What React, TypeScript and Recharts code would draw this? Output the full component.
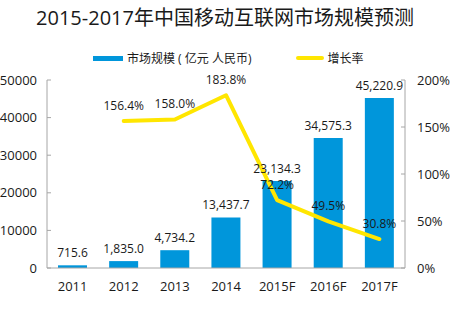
import { ComposedChart, Bar, Line, XAxis, YAxis, LabelList } from "recharts";

const years = ["2011", "2012", "2013", "2014", "2015F", "2016F", "2017F"];
// 市场规模（亿元 人民币）
const marketSize = [715.6, 1835.0, 4734.2, 13437.7, 23134.3, 34575.3, 45220.9];
// 增长率 (%)
const growthRate = [null, 156.4, 158.0, 183.8, 72.2, 49.5, 30.8];
const sizeTicks = [0, 10000, 20000, 30000, 40000, 50000];
const rateTicks = [0, 50, 100, 150, 200];

const FONT = "'Open Sans', 'Noto Sans CJK SC', sans-serif";
const BLUE = "#0096DB";
const YELLOW = "#FFE600";
const AXIS = "#A6A6A6";

const data = years.map((year, i) => ({
  year,
  size: marketSize[i],
  rate: growthRate[i],
}));

const fmtSize = (v: number) =>
  v.toLocaleString("en-US", { minimumFractionDigits: 1, maximumFractionDigits: 1 });

export default function App() {
  return (
    <div
      style={{
        position: "absolute",
        left: 0,
        top: 0,
        width: 450,
        height: 322,
        background: "#fff",
        fontFamily: FONT,
      }}
    >
      <div
        style={{
          position: "absolute",
          top: 4,
          left: 0,
          width: 450,
          textAlign: "center",
          fontSize: 20,
          lineHeight: "28px",
          color: "#1a1a1a",
        }}
      >
        2015-2017年中国移动互联网市场规模预测
      </div>

      <div
        style={{
          position: "absolute",
          top: 49,
          left: 93,
          height: 18,
          display: "flex",
          alignItems: "center",
          fontSize: 12,
          color: "#1a1a1a",
        }}
      >
        <span style={{ width: 30, height: 5, background: BLUE, marginRight: 4 }} />
        <span>市场规模 ( 亿元 人民币)</span>
        <span
          style={{
            width: 28,
            height: 4,
            borderRadius: 2,
            background: YELLOW,
            marginLeft: 45,
            marginRight: 3,
          }}
        />
        <span>增长率</span>
      </div>

      <ComposedChart
        width={450}
        height={322}
        data={data}
        margin={{ top: 80, right: 5, bottom: 24, left: 5 }}
        barCategoryGap="21%"
      >
        <XAxis
          dataKey="year"
          tickLine={false}
          axisLine={{ stroke: AXIS }}
          tick={{ fontSize: 13, fill: "#1a1a1a", fontFamily: FONT }}
          tickMargin={8}
          height={30}
        />
        <YAxis
          yAxisId="left"
          domain={[0, 50000]}
          ticks={sizeTicks}
          width={42}
          axisLine={{ stroke: AXIS }}
          tickLine={{ stroke: AXIS }}
          tickSize={-4}
          tickMargin={14}
          tick={{ fontSize: 13, fill: "#1a1a1a", fontFamily: FONT }}
        />
        <YAxis
          yAxisId="right"
          orientation="right"
          domain={[0, 200]}
          ticks={rateTicks}
          width={40}
          axisLine={{ stroke: AXIS }}
          tickLine={{ stroke: AXIS }}
          tickSize={-4}
          tickMargin={16}
          tickFormatter={(v: number) => `${v}%`}
          tick={{ fontSize: 13, fill: "#1a1a1a", fontFamily: FONT }}
        />
        <Bar
          yAxisId="left"
          dataKey="size"
          fill={BLUE}
          barSize={29}
          isAnimationActive={false}
        >
          <LabelList
            dataKey="size"
            position="top"
            offset={8}
            formatter={(v: number) => fmtSize(v)}
            style={{ fontSize: 12, fill: "#1a1a1a", fontFamily: FONT }}
          />
        </Bar>
        <Line
          yAxisId="right"
          dataKey="rate"
          type="linear"
          stroke={YELLOW}
          strokeWidth={4}
          strokeLinecap="round"
          strokeLinejoin="round"
          dot={false}
          activeDot={false}
          isAnimationActive={false}
        >
          <LabelList
            dataKey="rate"
            position="top"
            offset={11}
            formatter={(v: number | null) => (v == null ? "" : `${v.toFixed(1)}%`)}
            style={{ fontSize: 12, fill: "#1a1a1a", fontFamily: FONT }}
          />
        </Line>
      </ComposedChart>
    </div>
  );
}
